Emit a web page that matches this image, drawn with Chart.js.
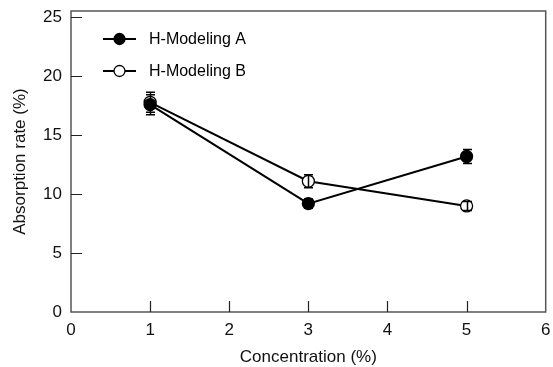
<!DOCTYPE html>
<html>
<head>
<meta charset="utf-8">
<script src="https://cdn.jsdelivr.net/npm/chart.js@4/dist/chart.umd.min.js"></script>
<style>
html,body{margin:0;padding:0;background:#fff;}
#wrap{width:553px;height:367px;}
</style>
</head>
<body>
<div id="wrap"><canvas id="c" width="553" height="367"></canvas></div>
<script>
const concentrations = [1, 3, 5];
const seriesNames = ["H-Modeling A", "H-Modeling B"];
const valuesA = [17.6, 9.2, 13.2];
const errorsA = [0.85, 0.4, 0.6];
const valuesB = [17.8, 11.1, 9.0];
const errorsB = [0.85, 0.55, 0.38];
const xTicks = [0, 1, 2, 3, 4, 5, 6];
const yTicks = [0, 5, 10, 15, 20, 25];

const FONT = "'Liberation Sans', Arial, sans-serif";

const toPts = (vals) => concentrations.map((x, i) => ({x: x, y: vals[i]}));

const framePlugin = {
  id: 'frame',
  beforeDatasetsDraw(chart) {
    const {ctx, chartArea: a, scales: {x, y}} = chart;
    ctx.save();
    ctx.strokeStyle = '#555';
    ctx.lineWidth = 1.5;
    ctx.strokeRect(a.left, a.top, a.right - a.left, a.bottom - a.top);
    ctx.strokeStyle = '#222';
    ctx.lineWidth = 1.2;
    ctx.beginPath();
    xTicks.forEach(v => {
      const px = Math.round(x.getPixelForValue(v)) + 0.5;
      if (v === 0 || v === 6) return;
      ctx.moveTo(px, a.bottom);
      ctx.lineTo(px, a.bottom - 11);
    });
    yTicks.forEach(v => {
      const py = Math.round(y.getPixelForValue(v)) + 0.5;
      if (v === 0) return;
      ctx.moveTo(a.left, py);
      ctx.lineTo(a.left + 11, py);
    });
    ctx.stroke();
    ctx.restore();
  },
  afterDatasetsDraw(chart) {
    const {ctx, scales: {x, y}} = chart;
    const errs = [errorsA, errorsB];
    const vals = [valuesA, valuesB];
    ctx.save();
    ctx.strokeStyle = '#000';
    ctx.lineWidth = 1.5;
    ctx.beginPath();
    for (let s = 0; s < 2; s++) {
      concentrations.forEach((c, i) => {
        const px = Math.round(x.getPixelForValue(c)) + 0.5;
        const top = y.getPixelForValue(vals[s][i] + errs[s][i]);
        const bot = y.getPixelForValue(vals[s][i] - errs[s][i]);
        ctx.moveTo(px, top); ctx.lineTo(px, bot);
        ctx.moveTo(px - 4.5, top); ctx.lineTo(px + 4.5, top);
        ctx.moveTo(px - 4.5, bot); ctx.lineTo(px + 4.5, bot);
      });
    }
    ctx.stroke();
    ctx.restore();
  },
  afterDraw(chart) {
    const {ctx} = chart;
    ctx.save();
    const items = [{y: 39, fill: '#000'}, {y: 71, fill: '#fff'}];
    items.forEach((it, i) => {
      ctx.strokeStyle = '#000';
      ctx.lineWidth = 2;
      ctx.beginPath();
      ctx.moveTo(103, it.y); ctx.lineTo(136, it.y);
      ctx.stroke();
      ctx.beginPath();
      ctx.arc(119.5, it.y, 5.5, 0, Math.PI * 2);
      ctx.fillStyle = it.fill;
      ctx.fill();
      ctx.lineWidth = 1.3;
      ctx.stroke();
      ctx.fillStyle = '#000';
      ctx.font = '16px ' + FONT;
      ctx.textBaseline = 'middle';
      ctx.textAlign = 'left';
      ctx.fillText(seriesNames[i], 149, it.y + 1);
    });
    ctx.restore();
  }
};

new Chart(document.getElementById('c'), {
  type: 'scatter',
  data: {
    datasets: [
      {
        label: seriesNames[0],
        data: toPts(valuesA),
        showLine: true,
        borderColor: '#000',
        borderWidth: 2,
        backgroundColor: '#000',
        pointBackgroundColor: '#000',
        pointBorderColor: '#000',
        pointBorderWidth: 1.3,
        pointRadius: 6,
        pointHoverRadius: 6
      },
      {
        label: seriesNames[1],
        data: toPts(valuesB),
        showLine: true,
        borderColor: '#000',
        borderWidth: 2,
        backgroundColor: '#fff',
        pointBackgroundColor: '#fff',
        pointBorderColor: '#000',
        pointBorderWidth: 1.3,
        pointRadius: 6,
        pointHoverRadius: 6
      }
    ]
  },
  options: {
    responsive: false,
    animation: false,
    layout: {padding: {top: 11, right: 4, left: 0, bottom: 0}},
    plugins: {legend: {display: false}, tooltip: {enabled: false}},
    scales: {
      x: {
        type: 'linear',
        min: 0, max: 6,
        afterBuildTicks: s => { s.ticks = xTicks.map(v => ({value: v})); },
        afterFit: s => { s.height = 55; s.paddingRight = 0; s.paddingLeft = 0; },
        grid: {display: false},
        border: {display: false},
        ticks: {color: '#111', font: {family: FONT, size: 17}, padding: 0},
        title: {display: true, text: 'Concentration (%)', color: '#111', font: {family: FONT, size: 17}, padding: {top: 0, bottom: -1}}
      },
      y: {
        type: 'linear',
        min: 0, max: 25.55,
        afterBuildTicks: s => { s.ticks = yTicks.map(v => ({value: v})); },
        afterFit: s => { s.width = 71; s.paddingTop = 0; s.paddingBottom = 0; },
        grid: {display: false},
        border: {display: false},
        ticks: {color: '#111', font: {family: FONT, size: 17}, padding: 1},
        title: {display: true, text: 'Absorption rate (%)', color: '#111', font: {family: FONT, size: 17}, padding: {top: 10, bottom: 0}}
      }
    }
  },
  plugins: [framePlugin]
});
</script>
</body>
</html>
